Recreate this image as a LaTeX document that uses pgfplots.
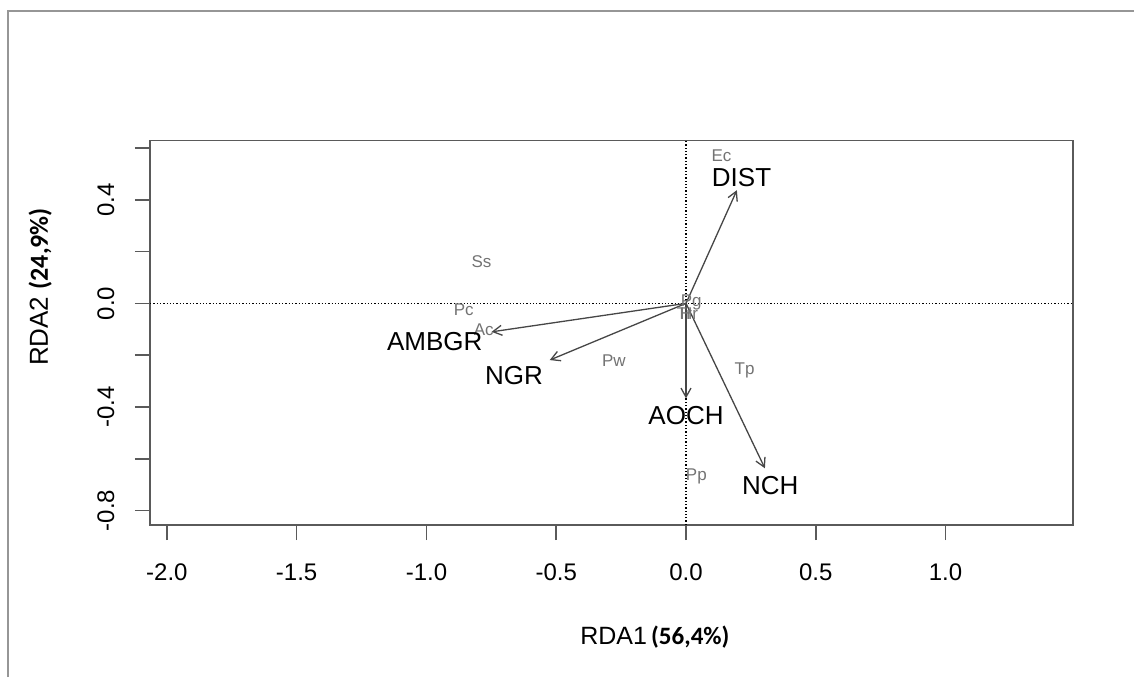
\documentclass[border=0pt]{standalone}
\usepackage{pgfplots}
\pgfplotsset{compat=1.18}
\usepackage{fontspec}
\setmainfont{Liberation Sans}
\newfontfamily\boldlab{Carlito}
\usetikzlibrary{arrows.meta}
\definecolor{boxgray}{RGB}{90,90,90}
\definecolor{arrgray}{RGB}{70,70,70}
\definecolor{spgray}{RGB}{115,115,115}
\definecolor{framegray}{RGB}{150,150,150}
\pgfplotstableread{
x y label
0.214 0.485 DIST
-0.968 -0.148 AMBGR
-0.663 -0.277 NGR
0.000 -0.435 AOCH
0.325 -0.705 NCH
}\envtab
\pgfplotstableread{
x y label
0.137 0.569 Ec
-0.788 0.161 Ss
-0.856 -0.023 Pc
-0.779 -0.103 Ac
-0.278 -0.222 Pw
0.020 0.005 Pg
-0.006 -0.038 Tr
0.012 -0.038 Hr
0.226 -0.260 Tp
0.040 -0.669 Pp
}\sptab
\begin{document}
\begin{tikzpicture}
\path[use as bounding box] (0,0) rectangle (1134pt,-677pt);
\draw[framegray, line width=2.2pt] (8pt,-677pt) -- (8pt,-11pt) -- (1134pt,-11pt);
\begin{axis}[
  at={(150pt,-525pt)}, anchor=south west,
  scale only axis, width=923pt, height=384.5pt,
  xmin=-2.065, xmax=1.491, ymin=-0.856, ymax=0.629,
  clip=false,
  axis line style={boxgray, line width=1.6pt},
  tick style={boxgray, line width=1.6pt},
  tick align=outside, major tick length=15pt,
  xtick pos=bottom, ytick pos=left,
  xtick={-2,-1.5,-1,-0.5,0,0.5,1},
  xticklabels={-2.0,-1.5,-1.0,-0.5,0.0,0.5,1.0},
  ytick={-0.8,-0.6,-0.4,-0.2,0,0.2,0.4,0.6},
  yticklabels={-0.8,,-0.4,,0.0,,0.4,},
  ticklabel style={font=\fontsize{24}{26}\selectfont, text=black},
  xticklabel style={yshift=-20pt},
  yticklabel style={rotate=90, anchor=south, yshift=17pt},
  xlabel={RDA1\,{\boldlab\bfseries (56,4\%)}},
  ylabel={RDA2 {\boldlab\bfseries (24,9\%)}},
  xlabel style={at={(axis description cs:0.547,-0.291)}, anchor=center, font=\fontsize{25}{27}\selectfont},
  ylabel style={at={(axis description cs:-0.119,0.619)}, anchor=center, rotate=0, font=\fontsize{26}{28}\selectfont},
]
\addplot[black, dotted, line width=1.3pt] coordinates {(-2.065,0) (1.491,0)};
\addplot[black, dotted, line width=1.3pt] coordinates {(0,-0.856) (0,0.629)};
\addplot[arrgray, line width=1.3pt, -{Straight Barb[length=9pt,width=10pt]}] coordinates {(0,0) (0.196,0.437)};
\addplot[arrgray, line width=1.3pt, -{Straight Barb[length=9pt,width=10pt]}] coordinates {(0,0) (-0.749,-0.110)};
\addplot[arrgray, line width=1.3pt, -{Straight Barb[length=9pt,width=10pt]}] coordinates {(0,0) (-0.525,-0.219)};
\addplot[arrgray, line width=1.3pt, -{Straight Barb[length=9pt,width=10pt]}] coordinates {(0,0) (0,-0.367)};
\addplot[arrgray, line width=1.3pt, -{Straight Barb[length=9pt,width=10pt]}] coordinates {(0,0) (0.304,-0.637)};
\addplot[draw=none, nodes near coords, point meta=explicit symbolic,
  nodes near coords style={anchor=center, inner sep=0pt, font=\fontsize{17}{18}\selectfont, text=spgray}]
  table[x=x, y=y, meta=label] {\sptab};
\addplot[draw=none, nodes near coords, point meta=explicit symbolic,
  nodes near coords style={anchor=center, inner sep=0pt, font=\fontsize{26}{28}\selectfont, text=black}]
  table[x=x, y=y, meta=label] {\envtab};
\end{axis}
\end{tikzpicture}
\end{document}
